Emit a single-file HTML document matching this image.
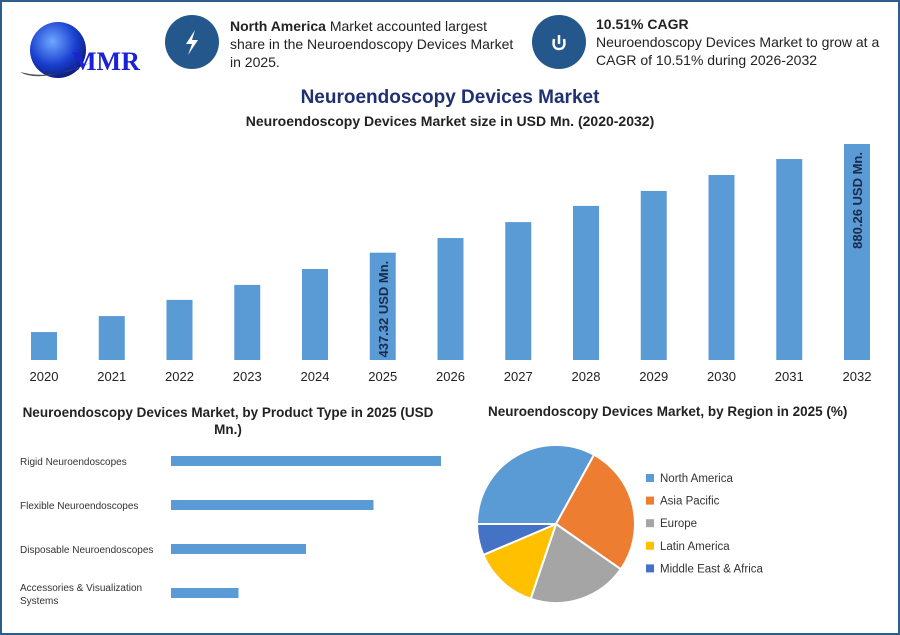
<!DOCTYPE html>
<html><head><meta charset="utf-8"><style>
body{margin:0;background:#fff;font-family:"Liberation Sans",sans-serif}
#root{position:relative;width:896px;height:631px;border:2px solid #2d5d8c;overflow:hidden;background:#fff}
.t{position:absolute;color:#222;white-space:nowrap}
</style></head><body>
<div id="root">
<svg width="900" height="635" style="position:absolute;left:-2px;top:-2px" id="svg">
 <g>
  <defs><radialGradient id="g" cx="0.4" cy="0.35" r="0.7"><stop offset="0" stop-color="#6fa8ff"/><stop offset="0.6" stop-color="#1a3fd0"/><stop offset="1" stop-color="#0a1a70"/></radialGradient></defs>
  <circle cx="58" cy="50" r="28" fill="url(#g)"/>
  <path d="M20 72 Q40 84 92 62 Q60 78 30 74Z" fill="#555"/>
  <text x="72" y="70" font-family="Liberation Serif" font-size="26" font-weight="bold" fill="#1a22d8">MMR</text>
 </g>
 <circle cx="192" cy="42" r="27" fill="#24578c"/>
 <path d="M195 30 L186 44 L192 44 L188 55 L198 40 L192 40Z" fill="#fff"/>
 <circle cx="559" cy="42" r="27" fill="#24578c"/>
 <path d="M554 39 Q552 49 559 49 Q566 49 564 39 M559 35 L559 44" stroke="#fff" stroke-width="2.5" fill="none"/>
 <g id="bars"></g>
 <g id="hbars"></g>
 <g id="pie"></g>
</svg>
<div class="t" style="left:228px;top:15px;font-size:14px;line-height:18px"><b>North America</b> Market accounted largest<br>share in the Neuroendoscopy Devices Market<br>in 2025.</div>
<div class="t" style="left:594px;top:13px;font-size:14px;line-height:18px"><b>10.51% CAGR</b><br>Neuroendoscopy Devices Market to grow at a<br>CAGR of 10.51% during 2026-2032</div>
<div class="t" style="left:0;width:896px;text-align:center;top:85px;font-size:19px;font-weight:bold;color:#1f3170">Neuroendoscopy Devices Market</div>
<div class="t" style="left:0;width:896px;text-align:center;top:111px;font-size:14px;font-weight:bold">Neuroendoscopy Devices Market size in USD Mn. (2020-2032)</div>
<div class="t" style="left:16px;top:402px;font-size:13.5px;font-weight:bold;line-height:17px;text-align:center;width:420px;white-space:normal">Neuroendoscopy Devices Market, by Product Type in 2025 (USD Mn.)</div>
<div class="t" style="left:486px;top:402px;font-size:13.5px;font-weight:bold">Neuroendoscopy Devices Market, by Region in 2025 (%)</div>
</div>
<script>
const years=["2020","2021","2022","2023","2024","2025","2026","2027","2028","2029","2030","2031","2032"];
const values=[114,179,245,306,371,437.32,497,562,628,689,754,819,880.26];
const labelYears=["2025","2032"];
const products=["Rigid Neuroendoscopes","Flexible Neuroendoscopes","Disposable Neuroendoscopes","Accessories & Visualization Systems"];
const productValues=[200,150,100,50];
const regions=["North America","Asia Pacific","Europe","Latin America","Middle East & Africa"];
const regionShares=[33,26.7,20.5,13.4,6.4];
const regionColors=["#5b9bd5","#ed7d31","#a5a5a5","#ffc000","#4472c4"];
const NS="http://www.w3.org/2000/svg";
function mk(tag,attrs,parent,text){const e=document.createElementNS(NS,tag);for(const k in attrs)e.setAttribute(k,attrs[k]);if(text!==undefined)e.textContent=text;parent.appendChild(e);return e;}
const base=360,maxH=216,maxV=880.26;
const xC=i=>44+i*67.75, yH=v=>v/maxV*maxH;
const bg=document.getElementById('bars');
years.forEach((y,i)=>{
 const h=yH(values[i]);
 const r=mk('rect',{x:xC(i)-13,y:base-h,width:26,height:h,fill:'#5b9bd5'},bg);
 
 
 const t=mk('text',{x:xC(i),y:381,'text-anchor':'middle','font-size':13,fill:'#222'},bg,y);
 
 
 if(labelYears.includes(y)){
  const ty=base-h+8;
  const l=mk('text',{x:0,y:0,'text-anchor':'end','font-size':13,'font-weight':'bold',fill:'#1a2a4a',transform:`translate(${xC(i)+5},${ty}) rotate(-90)`},bg,values[i].toFixed(2)+' USD Mn.');
  
  
 }
});
const hg=document.getElementById('hbars');
const hx=171,hMaxW=270,hMax=Math.max(...productValues);
products.forEach((p,i)=>{
 const yc=461+i*44;
 const r=mk('rect',{x:hx,y:yc-5,width:productValues[i]/hMax*hMaxW,height:10,fill:'#5b9bd5'},hg);
 
 
 const lines=i===3?["Accessories & Visualization","Systems"]:[p];
 lines.forEach((ln,j)=>{
  const t=mk('text',{x:20,y:yc+4+(lines.length>1?(j*13-6):0),'font-size':10,fill:'#333'},hg,ln);
  
  
 });
});
const pg=document.getElementById('pie');
const cx=556,cy=524,R=79;
const tot=regionShares.reduce((a,b)=>a+b,0);
let a=180;
regionShares.forEach((s,i)=>{
 const sw=s/tot*360, a1=a*Math.PI/180, a2=(a+sw)*Math.PI/180;
 const d=`M${cx},${cy} L${cx+R*Math.cos(a1)},${cy+R*Math.sin(a1)} A${R},${R} 0 ${sw>180?1:0} 1 ${cx+R*Math.cos(a2)},${cy+R*Math.sin(a2)}Z`;
 const p=mk('path',{d:d,fill:regionColors[i],stroke:'#fff','stroke-width':2},pg);
 
 
 a+=sw;
 const ly=478+i*22.6;
 const sq=mk('rect',{x:646,y:ly-4,width:8,height:8,fill:regionColors[i]},pg);
 
 
 const t=mk('text',{x:660,y:ly+4,'font-size':11.5,fill:'#333'},pg,regions[i]);
 
 
});
</script>
</body></html>
